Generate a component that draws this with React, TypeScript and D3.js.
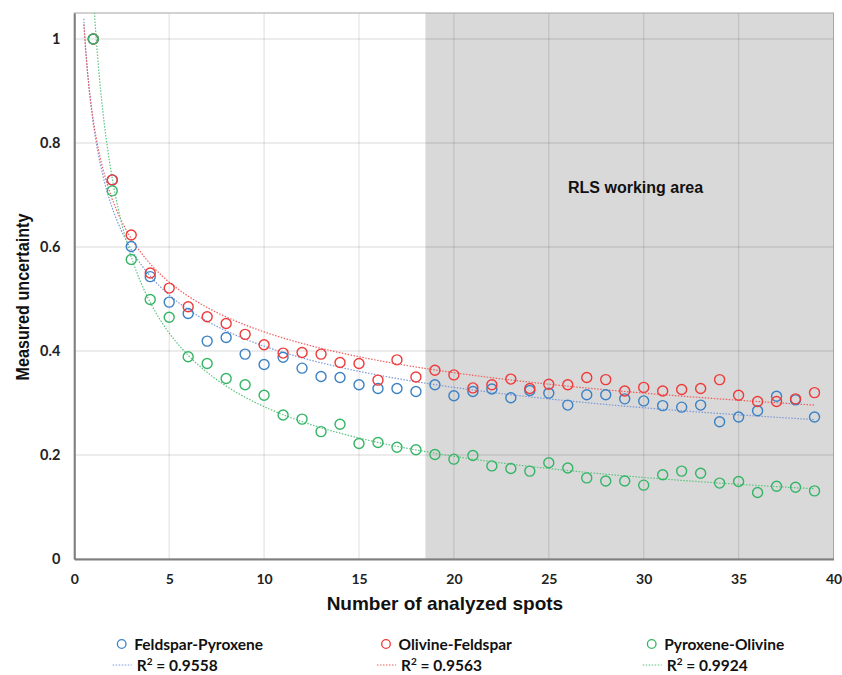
import React, { useEffect, useRef } from 'react'
import * as d3 from 'd3'

// number of analyzed spots
const spots = [1, 2, 3, 4, 5, 6, 7, 8, 9, 10, 11, 12, 13, 14, 15, 16, 17, 18, 19, 20,
  21, 22, 23, 24, 25, 26, 27, 28, 29, 30, 31, 32, 33, 34, 35, 36, 37, 38, 39]

const feldsparPyroxene = [1.0, 0.729, 0.601, 0.543, 0.494, 0.472, 0.419, 0.426, 0.394, 0.374,
  0.388, 0.367, 0.351, 0.349, 0.335, 0.328, 0.328, 0.322, 0.335, 0.314,
  0.322, 0.327, 0.31, 0.324, 0.319, 0.296, 0.316, 0.316, 0.308, 0.304,
  0.295, 0.292, 0.296, 0.264, 0.273, 0.285, 0.313, 0.306, 0.273]

const olivineFeldspar = [1.0, 0.729, 0.623, 0.55, 0.521, 0.485, 0.466, 0.453, 0.432, 0.412,
  0.396, 0.397, 0.394, 0.378, 0.376, 0.344, 0.383, 0.35, 0.363, 0.354,
  0.329, 0.335, 0.346, 0.328, 0.336, 0.335, 0.349, 0.345, 0.323, 0.33,
  0.323, 0.326, 0.328, 0.345, 0.315, 0.303, 0.303, 0.308, 0.32]

const pyroxeneOlivine = [1.0, 0.708, 0.576, 0.499, 0.465, 0.389, 0.376, 0.347, 0.335, 0.315,
  0.277, 0.269, 0.245, 0.259, 0.222, 0.224, 0.215, 0.21, 0.201, 0.192,
  0.199, 0.179, 0.174, 0.169, 0.185, 0.175, 0.156, 0.15, 0.15, 0.142,
  0.162, 0.169, 0.165, 0.146, 0.149, 0.128, 0.14, 0.138, 0.131]

const seriesNames = ['Feldspar-Pyroxene', 'Olivine-Feldspar', 'Pyroxene-Olivine']
const rSquared = ['0.9558', '0.9563', '0.9924']

const xTicks = [0, 5, 10, 15, 20, 25, 30, 35, 40]
const yTicks = [0, 0.2, 0.4, 0.6, 0.8, 1]
const workingAreaStart = 18.5

const pointColors = ['#3b82c4', '#f03a3a', '#34b566']
const trendColors = ['#7b98d8', '#f25c5c', '#5cc47f']

// power trendline y = a * x^b, least squares in log space
const powerFit = (xs: number[], ys: number[]) => {
  const lx = xs.map(Math.log)
  const ly = ys.map(Math.log)
  const mx = d3.mean(lx) as number
  const my = d3.mean(ly) as number
  const sxy = d3.sum(lx, (v, i) => (v - mx) * (ly[i] - my))
  const sxx = d3.sum(lx, v => (v - mx) * (v - mx))
  const b = sxy / sxx
  const a = Math.exp(my - b * mx)
  return (x: number) => a * Math.pow(x, b)
}

const App = () => {
  const ref = useRef<SVGSVGElement>(null)

  useEffect(() => {
    const svg = d3.select(ref.current)
    svg.selectAll('*').remove()

    const left = 74.3
    const right = 833.5
    const top = 13
    const bottom = 559

    const x = d3.scaleLinear().domain([0, 40]).range([left, right])
    const y = d3.scaleLinear().domain([0, 1.05]).range([bottom, top])

    svg.append('defs').append('clipPath').attr('id', 'plot-clip')
      .append('rect')
      .attr('x', left).attr('y', top)
      .attr('width', right - left).attr('height', bottom - top)

    // shaded working area
    svg.append('rect')
      .attr('x', x(workingAreaStart))
      .attr('y', top)
      .attr('width', x(40) - x(workingAreaStart))
      .attr('height', bottom - top)
      .style('fill', '#d9d9d9')

    // grid
    svg.append('g')
      .selectAll('line')
      .data(yTicks.slice(1))
      .enter()
      .append('line')
      .attr('x1', left).attr('x2', right)
      .attr('y1', d => y(d)).attr('y2', d => y(d))
      .style('stroke', 'rgba(0,0,0,0.1)')
      .style('stroke-width', 1.3)

    svg.append('g')
      .selectAll('line')
      .data(xTicks.slice(1, -1))
      .enter()
      .append('line')
      .attr('x1', d => x(d)).attr('x2', d => x(d))
      .attr('y1', top).attr('y2', bottom)
      .style('stroke', 'rgba(0,0,0,0.1)')
      .style('stroke-width', 1.3)

    svg.append('rect')
      .attr('x', left).attr('y', top)
      .attr('width', right - left).attr('height', bottom - top)
      .style('fill', 'none')
      .style('stroke', '#a6a6a6')
      .style('stroke-width', 1)

    svg.append('text')
      .attr('x', 568)
      .attr('y', 193)
      .style('font-family', '"Liberation Sans", Arial, sans-serif')
      .style('font-weight', 'bold')
      .style('font-size', '16px')
      .style('fill', '#111')
      .text('RLS working area')

    const allSeries = [feldsparPyroxene, olivineFeldspar, pyroxeneOlivine]
    const plot = svg.append('g').attr('clip-path', 'url(#plot-clip)')

    // trendlines
    allSeries.forEach((values, i) => {
      const fit = powerFit(spots, values)
      const xs = d3.range(0.5, 39.001, 0.1)
      const line = d3.line<number>().x(d => x(d)).y(d => y(fit(d)))
      plot.append('path')
        .datum(xs)
        .attr('d', line)
        .style('fill', 'none')
        .style('stroke', trendColors[i])
        .style('stroke-width', 1.2)
        .style('stroke-dasharray', '1.5,1.5')
    })

    // points
    allSeries.forEach((values, i) => {
      plot.append('g')
        .selectAll('circle')
        .data(values)
        .enter()
        .append('circle')
        .attr('cx', (d, j) => x(spots[j]))
        .attr('cy', d => y(d))
        .attr('r', 5)
        .style('fill', 'none')
        .style('stroke', pointColors[i])
        .style('stroke-width', 1.4)
    })

    // axes
    const tickFont = 'Lato, "Open Sans", sans-serif'
    const xAxis = svg.append('g')
      .attr('transform', `translate(0, ${bottom})`)
      .call(d3.axisBottom(x).tickValues(xTicks).tickSize(0).tickPadding(15).tickFormat(d => String(d)))
    xAxis.select('.domain').style('stroke', '#7f7f7f').style('stroke-width', 2)
    xAxis.selectAll('text')
      .style('font-family', tickFont).style('font-weight', 'bold')
      .style('font-size', '14px').style('fill', '#222')

    const yAxis = svg.append('g')
      .attr('transform', `translate(${left}, 0)`)
      .call(d3.axisLeft(y).tickValues(yTicks).tickSize(0).tickPadding(14).tickFormat(d => String(d)))
    yAxis.select('.domain').style('stroke', '#7f7f7f').style('stroke-width', 2)
    yAxis.selectAll('text')
      .style('font-family', tickFont).style('font-weight', 'bold')
      .style('font-size', '14.5px').style('fill', '#222')

    const titleFont = '"Liberation Sans", Arial, sans-serif'
    svg.append('text')
      .attr('x', (left + right) / 2 - 9)
      .attr('y', 610)
      .attr('text-anchor', 'middle')
      .style('font-family', titleFont).style('font-weight', 'bold')
      .style('font-size', '19px').style('fill', '#111')
      .text('Number of analyzed spots')

    svg.append('text')
      .attr('transform', 'translate(29, 297) rotate(-90) scale(0.85, 1)')
      .attr('text-anchor', 'middle')
      .style('font-family', titleFont).style('font-weight', 'bold')
      .style('font-size', '19px').style('fill', '#111')
      .text('Measured uncertainty')

    // legend
    const legendX = [121.7, 386, 651.7]
    const legend = svg.append('g')
    seriesNames.forEach((name, i) => {
      const g = legend.append('g')
      g.append('circle')
        .attr('cx', legendX[i]).attr('cy', 644).attr('r', 4.3)
        .style('fill', 'none').style('stroke', pointColors[i]).style('stroke-width', 1.3)
      g.append('text')
        .attr('x', legendX[i] + 12.5).attr('y', 649.5)
        .style('font-family', tickFont).style('font-weight', 'bold')
        .style('font-size', '15.5px').style('fill', '#111')
        .text(name)
      g.append('line')
        .attr('x1', legendX[i] - 9).attr('x2', legendX[i] + 10)
        .attr('y1', 665).attr('y2', 665)
        .style('stroke', trendColors[i]).style('stroke-width', 1.2)
        .style('stroke-dasharray', '1.5,1.5')
      const r = g.append('text')
        .attr('x', legendX[i] + 15).attr('y', 671)
        .style('font-family', tickFont).style('font-weight', 'bold')
        .style('font-size', '15.5px').style('fill', '#111')
      r.append('tspan').text('R')
      r.append('tspan').attr('dy', -6).style('font-size', '10px').text('2')
      r.append('tspan').attr('dy', 6).text(' = ' + rSquared[i])
    })
  }, [])

  return (
    <svg
      ref={ref}
      width={842}
      height={675}
      style={{ position: 'absolute', left: 0, top: 0, background: '#fff' }}
    />
  )
}

export default App
